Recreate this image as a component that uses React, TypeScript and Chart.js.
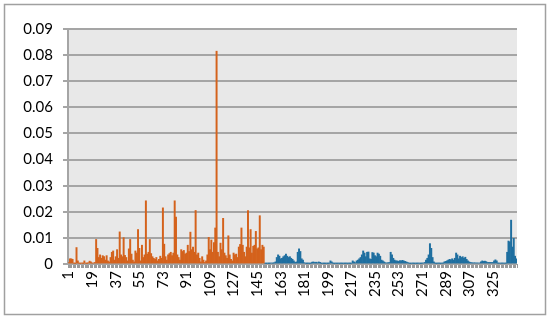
import React, { useEffect, useRef } from "react";
import { Chart, registerables } from "chart.js";

Chart.register(...registerables);

// Values for categories 1..150 (orange series)
const orangeValues: number[] = [
  0.0005, 0.002, 0.002, 0.0018, 0.0003, 0.0002, 0.0063, 0.0012, 0.0003, 0.0002,
  0.0004, 0.0002, 0.0012, 0.0003, 0.0002, 0.0005, 0.0011, 0.0008, 0.0003, 0.0004,
  0.0006, 0.0094, 0.006, 0.0025, 0.0035, 0.0022, 0.0032, 0.0028, 0.0015, 0.0032,
  0.0012, 0.0008, 0.0025, 0.0045, 0.005, 0.0015, 0.0028, 0.0055, 0.0022, 0.0123,
  0.0035, 0.0028, 0.0101, 0.0033, 0.0025, 0.0012, 0.0058, 0.0094, 0.0038, 0.0015,
  0.0008, 0.005, 0.0042, 0.0132, 0.006, 0.0012, 0.0072, 0.0025, 0.0035, 0.0242,
  0.0038, 0.0045, 0.0094, 0.004, 0.0028, 0.0022, 0.0018, 0.0025, 0.0012, 0.0018,
  0.003, 0.0022, 0.0215, 0.0076, 0.0028, 0.0015, 0.0035, 0.004, 0.0045, 0.0032,
  0.0042, 0.0242, 0.018, 0.0035, 0.0025, 0.0015, 0.0055, 0.0048, 0.0052, 0.0038,
  0.0042, 0.0072, 0.0048, 0.0122, 0.0055, 0.0065, 0.0045, 0.0205, 0.0035, 0.0042,
  0.0022, 0.0008, 0.0028, 0.0015, 0.0006, 0.0012, 0.0035, 0.0102, 0.0055, 0.0092,
  0.0045, 0.0082, 0.0138, 0.0815, 0.0045, 0.0028, 0.008, 0.0055, 0.0175, 0.0042,
  0.0032, 0.0022, 0.0108, 0.0035, 0.0018, 0.0012, 0.0042, 0.0035, 0.0038, 0.0025,
  0.0065, 0.0075, 0.0138, 0.0072, 0.0045, 0.0028, 0.0065, 0.0205, 0.0062, 0.0132,
  0.0042, 0.0068, 0.0072, 0.0125, 0.0058, 0.0062, 0.0185, 0.0055, 0.0072, 0.0065,
];

// Values for categories 151..343 (blue series)
const blueValues: number[] = [
  0.0003, 0.0002, 0.0003, 0.0002, 0.0003, 0.0004, 0.0003, 0.0005, 0.0008, 0.0025,
  0.0035, 0.003, 0.002, 0.0022, 0.0028, 0.0032, 0.0038, 0.003, 0.0025, 0.0028,
  0.0022, 0.0018, 0.0012, 0.0006, 0.0008, 0.0045, 0.0058, 0.0048, 0.002, 0.0015,
  0.0005, 0.0003, 0.0002, 0.0003, 0.0002, 0.0003, 0.0007, 0.0008, 0.0006, 0.0007,
  0.0005, 0.0008, 0.0006, 0.0002, 0.0003, 0.0002, 0.0002, 0.0003, 0.0002, 0.0003,
  0.0012, 0.0008, 0.0003, 0.0002, 0.0003, 0.0002, 0.0003, 0.0002, 0.0003, 0.0002,
  0.0003, 0.0002, 0.0003, 0.0002, 0.0003, 0.0002, 0.0003, 0.0012, 0.0008, 0.0005,
  0.0012, 0.0015, 0.002, 0.0025, 0.0035, 0.005, 0.0042, 0.0028, 0.0045, 0.0046,
  0.002, 0.0018, 0.0044, 0.0042, 0.0032, 0.0028, 0.0042, 0.0038, 0.003, 0.0015,
  0.0012, 0.0008, 0.0005, 0.0004, 0.0005, 0.0006, 0.0045, 0.0035, 0.0022, 0.0015,
  0.0012, 0.0012, 0.001, 0.0013, 0.0012, 0.0014, 0.0012, 0.001, 0.0008, 0.0006,
  0.0003, 0.0002, 0.0003, 0.0003, 0.0002, 0.0003, 0.0002, 0.0003, 0.0003, 0.0002,
  0.0003, 0.0004, 0.0006, 0.0015, 0.0022, 0.0035, 0.0078, 0.006, 0.0025, 0.0008,
  0.0003, 0.0002, 0.0003, 0.0003, 0.0002, 0.0003, 0.0003, 0.0008, 0.001, 0.0012,
  0.0015, 0.0018, 0.0016, 0.002, 0.0015, 0.0022, 0.0042, 0.0035, 0.002, 0.003,
  0.0025, 0.0028, 0.0022, 0.0026, 0.0018, 0.0012, 0.0008, 0.0006, 0.0005, 0.0004,
  0.0005, 0.0004, 0.0004, 0.0004, 0.0004, 0.0008, 0.0012, 0.001, 0.0011, 0.0009,
  0.0006, 0.0006, 0.0006, 0.0006, 0.0006, 0.0012, 0.0016, 0.0012, 0.0003, 0.0003,
  0.0003, 0.0003, 0.0003, 0.0003, 0.0003, 0.0045, 0.0088, 0.0085, 0.0168, 0.0065,
  0.0098, 0.003, 0.002,
];

const categoryCount = orangeValues.length + blueValues.length;
const categories: string[] = Array.from({ length: categoryCount }, (_, i) => String(i + 1));

const shownTickLabels: string[] = [
  "1", "19", "37", "55", "73", "91", "109", "127", "145", "163",
  "181", "199", "217", "235", "253", "271", "289", "307", "325",
];

const yTicks: number[] = [0, 0.01, 0.02, 0.03, 0.04, 0.05, 0.06, 0.07, 0.08, 0.09];

const FONT = "Lato, 'Open Sans', sans-serif";

const bgPlugin = {
  id: "bgPlugin",
  beforeDraw(chart: any) {
    const { ctx, chartArea, width, height } = chart;
    ctx.save();
    ctx.fillStyle = "#ffffff";
    ctx.fillRect(0, 0, width, height);
    ctx.strokeStyle = "#a0a0a0";
    ctx.lineWidth = 1.5;
    ctx.strokeRect(4.5, 4.5, width - 9, height - 9);
    ctx.fillStyle = "#e8e8e8";
    ctx.fillRect(chartArea.left, chartArea.top, chartArea.right - chartArea.left, chartArea.bottom - chartArea.top);
    ctx.restore();
  },
};

export default function App() {
  const canvasRef = useRef<HTMLCanvasElement | null>(null);

  useEffect(() => {
    document.body.style.margin = "0";
    const canvas = canvasRef.current;
    if (!canvas) return;
    const orangeData = categories.map((_, i) => (i < orangeValues.length ? orangeValues[i] : null));
    const blueData = categories.map((_, i) =>
      i >= orangeValues.length ? blueValues[i - orangeValues.length] : null
    );
    const chart = new Chart(canvas, {
      type: "bar",
      data: {
        labels: categories,
        datasets: [
          {
            data: orangeData,
            backgroundColor: "#d4621c",
            borderWidth: 0,
            grouped: false,
            barPercentage: 1,
            categoryPercentage: 1,
          } as any,
          {
            data: blueData,
            backgroundColor: "#1f6fa0",
            borderWidth: 0,
            grouped: false,
            barPercentage: 1,
            categoryPercentage: 1,
          } as any,
        ],
      },
      options: {
        responsive: false,
        animation: false,
        layout: { padding: { left: 0, right: 33, top: 29, bottom: 0 } },
        plugins: {
          legend: { display: false },
          tooltip: { enabled: false },
        },
        scales: {
          x: {
            grid: {
              drawOnChartArea: false,
              drawTicks: true,
              tickLength: 4,
              color: "#9a9a9a",
              lineWidth: 1,
            },
            border: { display: false },
            ticks: {
              autoSkip: false,
              minRotation: 90,
              maxRotation: 90,
              padding: 3,
              color: "#000000",
              font: { family: FONT, size: 15 },
              callback: (_v: any, idx: number) =>
                shownTickLabels.includes(categories[idx]) ? categories[idx] : "",
            },
            afterFit: (scale: any) => {
              scale.height = 55;
            },
          },
          y: {
            min: yTicks[0],
            max: yTicks[yTicks.length - 1],
            afterBuildTicks: (scale: any) => {
              scale.ticks = yTicks.map((v) => ({ value: v }));
            },
            grid: {
              color: "#a5a5a5",
              lineWidth: 2,
              tickLength: 5,
            },
            border: { color: "#a5a5a5", width: 2 },
            ticks: {
              padding: 10,
              color: "#000000",
              font: { family: FONT, size: 15 },
              callback: (v: any) => String(Number(Number(v).toFixed(2))),
            },
            afterFit: (scale: any) => {
              scale.width = 68;
            },
          },
        },
      },
      plugins: [bgPlugin],
    });
    return () => chart.destroy();
  }, []);

  return (
    <div style={{ width: 550, height: 319, position: "relative" }}>
      <canvas ref={canvasRef} width={550} height={319} style={{ width: 550, height: 319 }} />
    </div>
  );
}
